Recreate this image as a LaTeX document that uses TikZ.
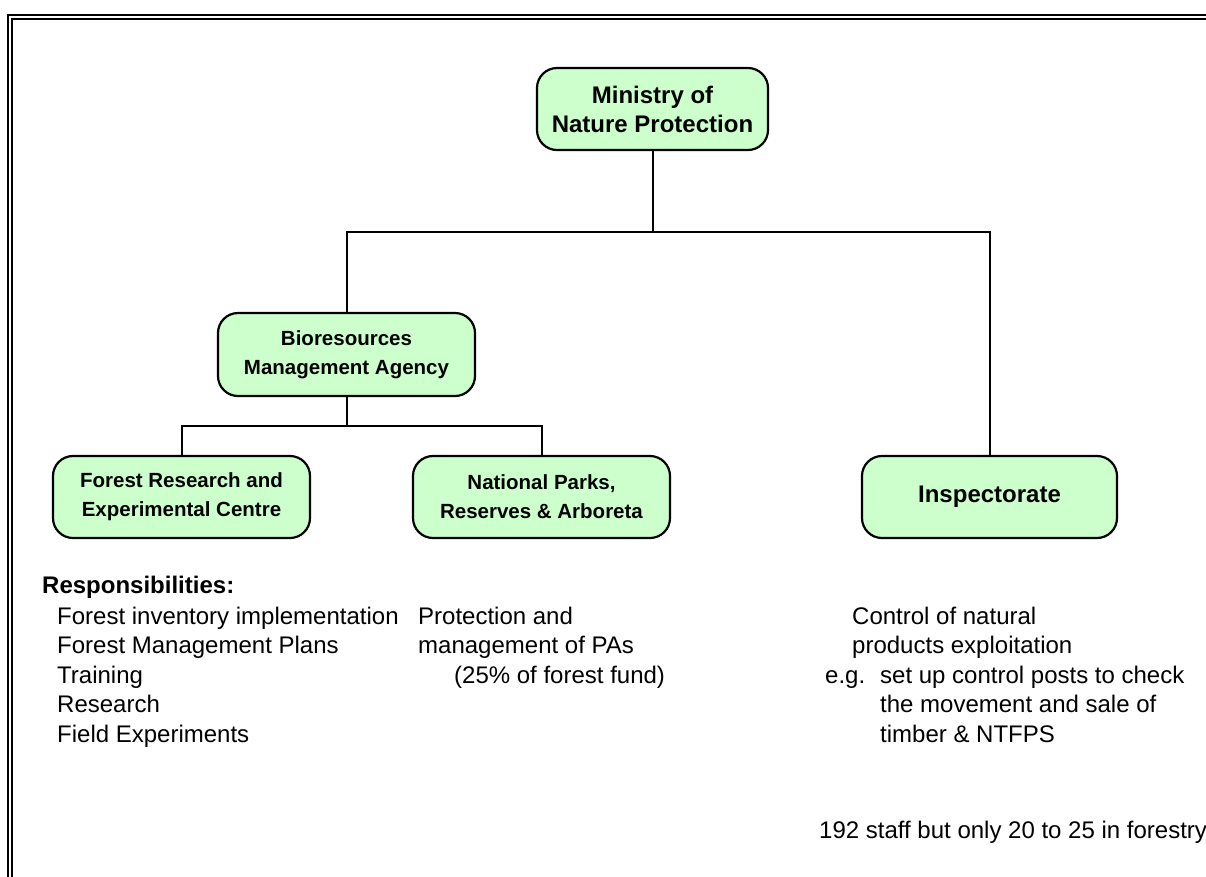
\documentclass[tikz,border=0pt]{standalone}
\usepackage{fontspec}
\setmainfont{Liberation Sans}
\definecolor{boxgreen}{RGB}{204,255,204}
\begin{document}
\begin{tikzpicture}[x=1pt,y=-1pt,
  orgbox/.style={draw=black, line width=2.2pt, rounded corners=20pt, fill=boxgreen,
    align=center, inner sep=0pt, font=\bfseries\fontsize{20.5}{29}\selectfont},
  bigbox/.style={orgbox, font=\bfseries\fontsize{24}{29}\selectfont},
  conn/.style={draw=black, line width=2pt},
  frame/.style={draw=black, line width=2pt},
  txt/.style={anchor=base west, inner sep=0pt, font=\fontsize{24}{29}\selectfont},
  btxt/.style={txt, font=\bfseries\fontsize{24}{29}\selectfont}]
\clip (0,0) rectangle (1206,876);
\fill[white] (0,0) rectangle (1206,876);
% double frame
\coordinate (fo1) at (1210,15); \coordinate (fo2) at (8,15); \coordinate (fo3) at (8,880);
\coordinate (fi1) at (1210,19); \coordinate (fi2) at (12,19); \coordinate (fi3) at (12,880);
\draw[frame] (fo1) -- (fo2) -- (fo3);
\draw[frame] (fi1) -- (fi2) -- (fi3);
% boxes
\node[bigbox, minimum width=231pt, minimum height=82pt] (min) at (652.5,109) {Ministry of\\Nature Protection};
\node[orgbox, minimum width=257pt, minimum height=83pt] (bio) at (346.5,354.5) {Bioresources\\Management Agency};
\node[orgbox, minimum width=257pt, minimum height=82pt] (fr) at (181.5,497) {Forest Research and\\Experimental Centre};
\node[orgbox, minimum width=257pt, minimum height=82pt] (np) at (541.5,497) {National Parks,\\Reserves \& Arboreta};
\node[bigbox, minimum width=255pt, minimum height=82pt] (insp) at (989.5,497) {Inspectorate};
% connectors
\coordinate (h1) at (0,232);
\coordinate (h2) at (0,426);
\draw[conn] (min.south) -- (min.south |- h1);
\draw[conn] (bio.north) -- (bio.north |- h1) -- (insp.north |- h1) -- (insp.north);
\draw[conn] (bio.south) -- (bio.south |- h2);
\draw[conn] (fr.north) -- (fr.north |- h2) -- (np.north |- h2) -- (np.north);
% texts
\node[btxt] (resp) at (42,593) {Responsibilities:};
\node[txt] (l1) at (57,624) {Forest inventory implementation};
\node[txt] (l2) at (57,653.5) {Forest Management Plans};
\node[txt] (l3) at (57,683) {Training};
\node[txt] (l4) at (57,712.5) {Research};
\node[txt] (l5) at (57,742) {Field Experiments};
\node[txt] (m1) at (418,624) {Protection and};
\node[txt] (m2) at (418,653.5) {management of PAs};
\node[txt] (m3) at (454,683) {(25\% of forest fund)};
\node[txt] (r1) at (852,624) {Control of natural};
\node[txt] (r2) at (852,653.5) {products exploitation};
\node[txt] (r3a) at (825,683) {e.g.};
\node[txt] (r3) at (880,683) {set up control posts to check};
\node[txt] (r4) at (880,712.5) {the movement and sale of};
\node[txt] (r5) at (880,742) {timber \& NTFPS};
\node[txt] (staff) at (819,838) {192 staff but only 20 to 25 in forestry};
\end{tikzpicture}
\end{document}
